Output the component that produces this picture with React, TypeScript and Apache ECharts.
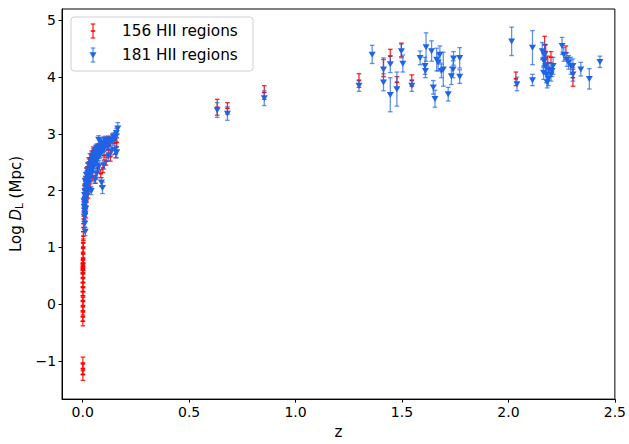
import React, { useEffect, useRef } from "react";
import * as echarts from "echarts";

// [z, log D_L, error]
const redLocal: number[][] = [
  [0.001, -1.05, 0.12], [0.001, -1.13, 0.1], [0.001, -1.24, 0.1],
  [0.0008, -0.3, 0.08], [0.001, -0.22, 0.08], [0.0012, -0.12, 0.07], [0.001, -0.03, 0.08],
  [0.0015, 0.05, 0.07], [0.001, 0.15, 0.08], [0.0012, 0.22, 0.07], [0.0015, 0.3, 0.08],
  [0.001, 0.38, 0.07], [0.0018, 0.47, 0.08], [0.001, 0.55, 0.08], [0.0012, 0.6, 0.07],
  [0.001, 0.63, 0.08], [0.0014, 0.66, 0.07], [0.0012, 0.69, 0.08], [0.0016, 0.72, 0.07],
  [0.002, 0.8, 0.08], [0.0018, 0.9, 0.08], [0.002, 1.0, 0.08], [0.0025, 1.08, 0.07],
  [0.003, 1.2, 0.08], [0.004, 1.35, 0.07], [0.005, 1.5, 0.08], [0.006, 1.62, 0.07],
];
const redBlob: number[][] = [
  [0.006, 1.72, 0.08], [0.007, 1.88, 0.08], [0.008, 2.02, 0.07], [0.01, 2.12, 0.08],
  [0.013, 2.25, 0.07], [0.017, 2.32, 0.08], [0.022, 2.42, 0.07], [0.028, 2.5, 0.08],
  [0.034, 2.58, 0.07], [0.042, 2.62, 0.08], [0.05, 2.7, 0.07], [0.06, 2.68, 0.08],
  [0.07, 2.75, 0.07], [0.08, 2.82, 0.08], [0.09, 2.8, 0.07], [0.1, 2.86, 0.08],
  [0.11, 2.84, 0.07], [0.12, 2.88, 0.08], [0.13, 2.86, 0.07], [0.14, 2.92, 0.08],
  [0.15, 2.9, 0.07], [0.16, 2.85, 0.08], [0.155, 2.65, 0.07], [0.13, 2.6, 0.08],
  [0.11, 2.52, 0.07], [0.095, 2.4, 0.08], [0.085, 2.3, 0.07], [0.07, 2.4, 0.08],
  [0.06, 2.2, 0.07], [0.045, 2.25, 0.08], [0.035, 2.05, 0.07], [0.025, 1.95, 0.08],
  [0.018, 1.8, 0.07], [0.015, 1.6, 0.08], [0.12, 2.72, 0.07], [0.1, 2.62, 0.08],
];
const redMid: number[][] = [
  [0.632, 3.47, 0.14], [0.68, 3.45, 0.1], [0.853, 3.73, 0.12],
];
const redHigh: number[][] = [
  [1.298, 3.94, 0.12], [1.413, 4.16, 0.15], [1.445, 4.37, 0.12], [1.476, 3.91, 0.1],
  [1.497, 4.48, 0.12], [1.546, 3.94, 0.1], [2.035, 3.97, 0.12], [2.17, 4.57, 0.15],
  [2.175, 4.45, 0.12], [2.185, 4.25, 0.12], [2.27, 4.43, 0.12], [2.303, 3.99, 0.15],
  [2.2, 4.35, 0.1],
];
const blueBlob: number[][] = [
  [0.012, 1.28, 0.07], [0.01, 1.42, 0.06], [0.008, 1.55, 0.07], [0.011, 1.6, 0.06],
  [0.009, 1.65, 0.07], [0.013, 1.68, 0.06], [0.007, 1.72, 0.07], [0.01, 1.76, 0.06],
  [0.014, 1.8, 0.07], [0.006, 1.82, 0.06], [0.012, 1.86, 0.07], [0.016, 1.9, 0.06],
  [0.009, 1.93, 0.07], [0.018, 1.97, 0.06], [0.011, 2.0, 0.07], [0.02, 2.03, 0.06],
  [0.014, 2.06, 0.07], [0.024, 2.1, 0.06], [0.017, 2.12, 0.07], [0.03, 2.15, 0.06],
  [0.012, 2.18, 0.07], [0.022, 2.2, 0.06], [0.035, 2.22, 0.07], [0.027, 2.25, 0.06],
  [0.018, 2.28, 0.07], [0.04, 2.3, 0.06], [0.032, 2.33, 0.07], [0.024, 2.36, 0.06],
  [0.045, 2.38, 0.07], [0.038, 2.4, 0.06], [0.05, 2.42, 0.07], [0.03, 2.45, 0.06],
  [0.055, 2.46, 0.07], [0.043, 2.48, 0.06], [0.06, 2.5, 0.07], [0.036, 2.52, 0.06],
  [0.065, 2.53, 0.07], [0.05, 2.56, 0.06], [0.07, 2.58, 0.07], [0.058, 2.6, 0.06],
  [0.075, 2.6, 0.07], [0.045, 2.62, 0.06], [0.08, 2.64, 0.07], [0.066, 2.66, 0.06],
  [0.085, 2.66, 0.07], [0.055, 2.7, 0.06], [0.09, 2.7, 0.07], [0.075, 2.72, 0.06],
  [0.095, 2.74, 0.07], [0.065, 2.76, 0.06], [0.1, 2.76, 0.07], [0.085, 2.8, 0.06],
  [0.105, 2.78, 0.07], [0.11, 2.82, 0.06], [0.095, 2.85, 0.07], [0.115, 2.8, 0.06],
  [0.12, 2.86, 0.07], [0.105, 2.9, 0.06], [0.125, 2.84, 0.07], [0.13, 2.9, 0.06],
  [0.075, 2.9, 0.07], [0.14, 2.88, 0.06], [0.145, 2.95, 0.07], [0.15, 2.72, 0.08],
  [0.155, 2.95, 0.07], [0.16, 2.68, 0.1], [0.158, 3.02, 0.08], [0.165, 3.1, 0.1],
  [0.088, 2.15, 0.08], [0.093, 2.05, 0.1], [0.065, 2.3, 0.07], [0.058, 2.2, 0.07],
  [0.1, 2.45, 0.07], [0.04, 2.0, 0.07], [0.075, 2.42, 0.07], [0.12, 2.6, 0.07],
  [0.135, 2.7, 0.07],
];
const blueMid: number[][] = [
  [0.632, 3.42, 0.13], [0.68, 3.36, 0.12], [0.853, 3.63, 0.13],
];
const blueHigh: number[][] = [
  [1.298, 3.85, 0.1], [1.36, 4.4, 0.16], [1.413, 4.14, 0.2], [1.413, 3.91, 0.15],
  [1.445, 3.69, 0.3], [1.445, 4.23, 0.15], [1.476, 3.79, 0.3], [1.497, 4.46, 0.12],
  [1.504, 4.24, 0.15], [1.546, 3.85, 0.1], [1.585, 4.34, 0.12], [1.608, 4.2, 0.15],
  [1.613, 4.53, 0.25], [1.61, 4.11, 0.12], [1.639, 4.46, 0.18], [1.647, 3.82, 0.12],
  [1.655, 3.62, 0.15], [1.663, 4.31, 0.2], [1.67, 4.26, 0.15], [1.678, 4.4, 0.15],
  [1.685, 4.11, 0.12], [1.694, 4.14, 0.3], [1.717, 3.7, 0.12], [1.732, 4.02, 0.15],
  [1.74, 4.14, 0.15], [1.742, 4.33, 0.12], [1.771, 4.34, 0.18], [1.771, 4.01, 0.12],
  [2.015, 4.63, 0.25], [2.04, 3.88, 0.12], [2.113, 4.52, 0.3], [2.113, 3.95, 0.1],
  [2.159, 4.46, 0.15], [2.165, 4.3, 0.12], [2.17, 4.4, 0.18], [2.168, 4.28, 0.12],
  [2.175, 4.2, 0.15], [2.165, 4.08, 0.12], [2.178, 4.05, 0.15], [2.182, 3.91, 0.1],
  [2.188, 3.97, 0.12], [2.19, 4.14, 0.12], [2.2, 4.05, 0.12], [2.205, 4.11, 0.1],
  [2.21, 4.2, 0.15], [2.252, 4.55, 0.15], [2.26, 4.4, 0.12], [2.275, 4.31, 0.12],
  [2.283, 4.26, 0.12], [2.293, 4.2, 0.15], [2.303, 4.2, 0.12], [2.303, 4.05, 0.12],
  [2.34, 4.14, 0.12], [2.38, 3.97, 0.18], [2.43, 4.27, 0.1],
];
const xTicks = [0, 0.5, 1.0, 1.5, 2.0, 2.5];
const yTicks = [-1, 0, 1, 2, 3, 4, 5];
const seriesNames = ["156 HII regions", "181 HII regions"];

const RED = "#ff0000";
const BLUE = "#1f64e6";
const RED_BAR = "rgba(255,0,0,0.85)";
const BLUE_BAR = "rgba(31,100,230,0.7)";
const FONT = "DejaVu Sans";

function markerEls(cx: number, cy: number, top: number, bot: number, kind: "red" | "blue") {
  const bar = kind === "red" ? RED_BAR : BLUE_BAR;
  const cap = 2.3;
  const lw = 1.3;
  const els: any[] = [
    { type: "line", shape: { x1: cx, y1: top, x2: cx, y2: bot }, style: { stroke: bar, lineWidth: lw } },
    { type: "line", shape: { x1: cx - cap, y1: top, x2: cx + cap, y2: top }, style: { stroke: bar, lineWidth: lw } },
    { type: "line", shape: { x1: cx - cap, y1: bot, x2: cx + cap, y2: bot }, style: { stroke: bar, lineWidth: lw } },
  ];
  if (kind === "blue") {
    els.push({
      type: "polygon",
      shape: { points: [[cx - 3.5, cy - 2.8], [cx + 3.5, cy - 2.8], [cx, cy + 3.2]] },
      style: { fill: BLUE },
    });
  } else {
    els.push({ type: "line", shape: { x1: cx - 2.2, y1: cy, x2: cx + 2.2, y2: cy }, style: { stroke: RED, lineWidth: 1.6 } });
  }
  return els;
}

function makeRender(kind: "red" | "blue") {
  return (params: any, api: any) => {
    const x = api.value(0), y = api.value(1), e = api.value(2);
    const c = api.coord([x, y]);
    const t = api.coord([x, y + e]);
    const b = api.coord([x, y - e]);
    return { type: "group", children: markerEls(c[0], c[1], t[1], b[1], kind) };
  };
}

const fmt = (v: number, digits: number) => {
  const s = Math.abs(v).toFixed(digits);
  return v < 0 ? "\u2212" + s : s;
};

export default function App() {
  const ref = useRef<HTMLDivElement>(null);
  useEffect(() => {
    if (!ref.current) return;
    const chart = echarts.init(ref.current, undefined, { renderer: "svg" });
    const redData = [...redLocal, ...redBlob, ...redMid, ...redHigh];
    const blueData = [...blueBlob, ...blueMid, ...blueHigh];
    const lx = 71, ly = 17, lw = 182, lh = 54;
    chart.setOption({
      animation: false,
      backgroundColor: "#fff",
      grid: { left: 62, right: 9, top: 9, bottom: 40, show: true, borderColor: "#000", borderWidth: 1, backgroundColor: "transparent" },
      xAxis: {
        type: "value",
        min: -0.097,
        max: 2.5,
        name: "z",
        nameLocation: "middle",
        nameGap: 21,
        nameTextStyle: { fontFamily: FONT, fontSize: 15, color: "#000" },
        axisLine: { show: true, onZero: false, lineStyle: { color: "#000", width: 1 } },
        axisTick: { show: true, length: 3.5, lineStyle: { color: "#000" }, customValues: xTicks },
        axisLabel: { fontFamily: FONT, fontSize: 14, color: "#000", margin: 6, customValues: xTicks, formatter: (v: number) => fmt(v, 1) },
        splitLine: { show: false },
      },
      yAxis: {
        type: "value",
        min: -1.67,
        max: 5.2,
        name: "Log {i|D}{s|L} (Mpc)",
        nameLocation: "middle",
        nameGap: 31,
        nameRotate: 90,
        nameTextStyle: {
          fontFamily: FONT, fontSize: 15, color: "#000",
          rich: {
            i: { fontFamily: FONT, fontSize: 15, fontStyle: "italic", color: "#000" },
            s: { fontFamily: FONT, fontSize: 10.5, color: "#000", padding: [7, 0, 0, 0] },
          },
        },
        axisLine: { show: true, onZero: false, lineStyle: { color: "#000", width: 1 } },
        axisTick: { show: true, length: 3.5, lineStyle: { color: "#000" }, customValues: yTicks },
        axisLabel: { fontFamily: FONT, fontSize: 14, color: "#000", margin: 6, customValues: yTicks, formatter: (v: number) => fmt(v, 0) },
        splitLine: { show: false },
      },
      series: [
        { name: seriesNames[0], type: "custom", renderItem: makeRender("red"), data: redData, encode: { x: 0, y: 1 }, clip: true },
        { name: seriesNames[1], type: "custom", renderItem: makeRender("blue"), data: blueData, encode: { x: 0, y: 1 }, clip: true },
      ],
      graphic: [
        {
          type: "group",
          z: 100,
          children: [
            { type: "rect", shape: { x: lx, y: ly, width: lw, height: lh, r: 3 }, style: { fill: "rgba(255,255,255,0.8)", stroke: "#d0d0d0", lineWidth: 1 } },
            ...markerEls(93, 31, 24, 38, "red"),
            ...markerEls(93, 55, 48, 62, "blue"),
            { type: "text", x: 122, y: 31, style: { text: seriesNames[0], fontFamily: FONT, fontSize: 15.3, fill: "#000", verticalAlign: "middle" } },
            { type: "text", x: 122, y: 55, style: { text: seriesNames[1], fontFamily: FONT, fontSize: 15.3, fill: "#000", verticalAlign: "middle" } },
          ],
        },
      ],
    });
    return () => chart.dispose();
  }, []);
  return <div ref={ref} style={{ width: 629, height: 444, position: "absolute", left: 0, top: 0 }} />;
}
